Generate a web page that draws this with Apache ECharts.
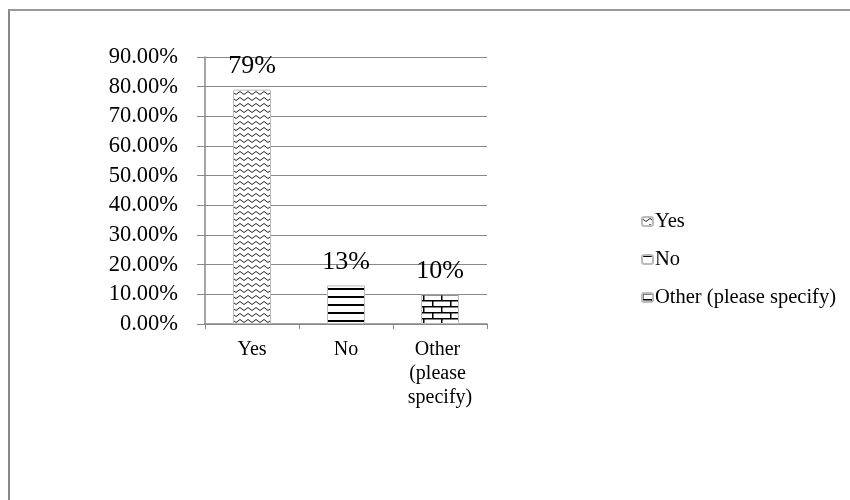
<!DOCTYPE html>
<html>
<head>
<meta charset="utf-8">
<script src="https://cdn.jsdelivr.net/npm/echarts@6/dist/echarts.min.js"></script>
<style>
  body { margin: 0; background: #fff; }
  #wrap { position: relative; width: 850px; height: 500px; }
  #chart { width: 850px; height: 500px; }
  #frame {
    position: absolute; left: 8px; top: 9px; right: 0; bottom: 0;
    border-left: 2px solid #888; border-top: 2px solid #999;
    pointer-events: none;
  }
</style>
</head>
<body>
<div id="wrap">
  <div id="chart"></div>
  <div id="frame"></div>
</div>
<script>
// data
const categories = ['Yes', 'No', 'Other (please specify)'];
const shares = [0.79, 0.13, 0.10];
const shareLabels = ['79%', '13%', '10%'];
const yTicks = [0, 0.1, 0.2, 0.3, 0.4, 0.5, 0.6, 0.7, 0.8, 0.9];

const FONT = "'Liberation Serif', 'Times New Roman', serif";

// fill patterns like the Excel ones
function makePattern(w, h, draw) {
  const c = document.createElement('canvas');
  c.width = w;
  c.height = h;
  const ctx = c.getContext('2d');
  ctx.fillStyle = '#fff';
  ctx.fillRect(0, 0, w, h);
  draw(ctx);
  return { image: c, repeat: 'repeat' };
}

const zigzag = makePattern(8, 6, ctx => {
  ctx.strokeStyle = '#222';
  ctx.lineWidth = 1;
  ctx.beginPath();
  ctx.moveTo(0, 1.5);
  ctx.lineTo(4, 4.5);
  ctx.lineTo(8, 1.5);
  ctx.stroke();
});

const hlines = makePattern(8, 8, ctx => {
  ctx.fillStyle = '#000';
  ctx.fillRect(0, 0, 8, 2);
});

const bricks = makePattern(18, 12, ctx => {
  ctx.fillStyle = '#000';
  ctx.fillRect(0, 0, 18, 1.5);
  ctx.fillRect(0, 6, 18, 1.5);
  ctx.fillRect(0, 0, 1.5, 6);
  ctx.fillRect(9, 6, 1.5, 6);
});

const fills = [zigzag, hlines, bricks];

const series = categories.map((name, i) => ({
  name: name,
  type: 'bar',
  stack: 'one',
  barWidth: 38,
  data: categories.map((c, j) => (j === i ? shares[j] : '-')),
  itemStyle: { color: fills[i], borderColor: '#bbb', borderWidth: 1 },
  label: {
    show: true,
    position: 'top',
    distance: 10,
    formatter: () => shareLabels[i],
    fontFamily: FONT,
    fontSize: 26,
    color: '#000'
  }
}));

const option = {
  animation: false,
  textStyle: { fontFamily: FONT, color: '#000' },
  grid: { left: 205, right: 363, top: 57, bottom: 176 },
  legend: {
    orient: 'vertical',
    left: 636,
    top: 206,
    itemGap: 17,
    itemWidth: 11,
    itemHeight: 9,
    textStyle: { fontFamily: FONT, fontSize: 20.5, color: '#000', padding: [0, 0, 0, -3] },
    data: categories
  },
  xAxis: {
    type: 'category',
    data: categories,
    axisLine: { lineStyle: { color: '#888', width: 1.5 } },
    axisTick: { show: true, length: 5, lineStyle: { color: '#888' } },
    axisLabel: {
      fontFamily: FONT,
      fontSize: 20,
      color: '#000',
      margin: 14,
      lineHeight: 24,
      width: 90,
      overflow: 'break',
      interval: 0
    }
  },
  yAxis: {
    type: 'value',
    min: 0,
    max: 0.9,
    interval: 0.1,
    axisLine: { show: true, lineStyle: { color: '#888', width: 1.5 } },
    axisTick: { show: true, length: 8, lineStyle: { color: '#888' } },
    splitLine: { lineStyle: { color: '#888', width: 1 } },
    axisLabel: {
      fontFamily: FONT,
      fontSize: 22.5,
      color: '#000',
      margin: 27,
      formatter: v => (v * 100).toFixed(2) + '%',
      customValues: yTicks
    }
  },
  series: series
};

const chart = echarts.init(document.getElementById('chart'));
chart.setOption(option);
</script>
</body>
</html>
